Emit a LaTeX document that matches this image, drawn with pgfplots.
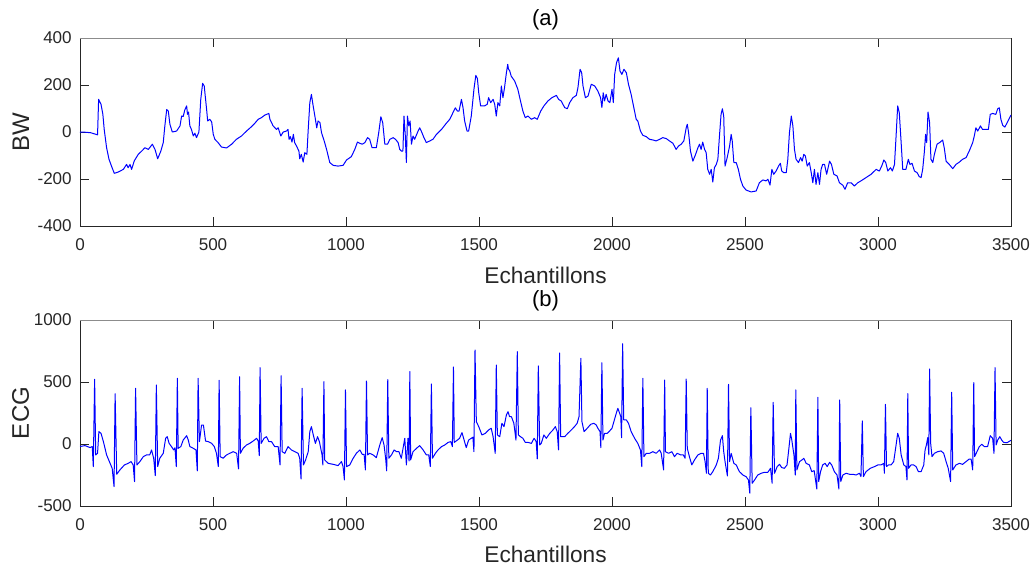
\documentclass[border=0pt]{standalone}
\usepackage{fontspec}
\setmainfont{Liberation Sans}
\usepackage{pgfplots}
\pgfplotsset{compat=1.18}
\definecolor{axgray}{HTML}{262626}
\definecolor{topgray}{HTML}{8C8C8C}
\pgfplotsset{
  mystyle/.style={
    scale only axis, width=698.25pt,
    xmin=0, xmax=3500,
    xtick={0,500,1000,1500,2000,2500,3000,3500},
    xticklabels={0,500,1000,1500,2000,2500,3000,3500},
    tick align=inside,
    major tick length=7pt,
    axis line style={axgray, line width=0.7pt},
    tick style={axgray, line width=0.7pt},
    tick label style={font=\fontsize{12.8}{15}\selectfont, text=axgray},
    xticklabel style={inner sep=0pt, yshift=-9pt},
    yticklabel style={inner sep=0pt, xshift=-6pt},
  },
  sig/.style={color=blue, line width=0.75pt, line join=round}
}
\begin{document}
\begin{tikzpicture}
\useasboundingbox (0,0) rectangle (774.75pt,429pt);
\begin{axis}[mystyle, name=ax1, at={(60pt,259.5pt)}, anchor=south west,
  height=141pt, ymin=-400, ymax=400,
  ytick={-400,-200,0,200,400}, yticklabels={-400,-200,0,200,400}]
\addplot[sig] table[x=x,y=y] {
x y
0 0
20 -1
40 -3
66 -12
70 139
79 118
86 75
91 11
100 -67
109 -116
119 -147
129 -176
144 -170
163 -159
175 -138
181 -152
188 -138
194 -159
204 -123
219 -95
232 -81
244 -67
257 -74
272 -52
282 -74
292 -114
304 -81
313 -45
319 26
326 96
332 89
338 33
347 0
363 4
376 26
382 68
388 66
394 94
401 111
404 75
408 85
413 26
419 11
426 -17
432 -5
438 -24
447 0
454 139
461 207
467 196
476 96
480 47
488 54
495 43
501 -10
507 -31
519 -45
532 -64
551 -68
570 -52
588 -31
607 -17
626 4
645 23
657 37
670 54
682 61
695 72
710 79
714 54
726 26
739 11
745 18
755 -17
764 0
776 4
782 11
786 -31
791 -20
797 -43
802 -10
807 -45
814 -60
823 -81
826 -114
832 -95
839 -128
845 -88
853 -95
858 11
864 125
870 160
876 115
885 54
890 18
895 47
902 40
908 -3
918 -38
927 -74
939 -130
952 -142
970 -145
989 -142
1002 -119
1020 -105
1033 -74
1043 -43
1052 -48
1061 -52
1071 -45
1081 -24
1089 -31
1098 -67
1114 -67
1123 -3
1131 65
1138 40
1146 -52
1156 -52
1165 -31
1177 -24
1186 -31
1196 -45
1202 -74
1208 -81
1214 -81
1218 68
1223 -17
1227 -130
1231 68
1236 26
1241 47
1246 -52
1252 -17
1258 -31
1271 4
1277 18
1283 4
1293 -24
1302 -45
1315 -38
1327 -31
1340 -10
1359 11
1377 37
1390 54
1402 82
1411 103
1419 89
1425 89
1434 139
1440 103
1446 47
1455 4
1461 4
1471 68
1481 182
1488 241
1494 227
1499 167
1506 111
1521 111
1531 118
1536 146
1544 125
1553 139
1559 118
1565 68
1571 125
1578 111
1584 196
1590 146
1596 189
1603 252
1608 288
1611 267
1615 262
1621 238
1634 217
1646 182
1656 132
1665 89
1674 61
1684 68
1697 54
1709 61
1719 54
1732 89
1744 111
1759 132
1774 146
1791 156
1799 139
1809 132
1822 104
1832 99
1841 125
1853 146
1866 156
1872 189
1880 267
1886 252
1891 196
1900 146
1910 153
1922 203
1935 196
1947 174
1957 146
1962 104
1967 167
1972 132
1978 160
1985 132
1992 125
2000 181
2005 125
2010 245
2017 295
2024 316
2030 260
2037 245
2045 267
2054 252
2062 203
2072 160
2082 104
2091 54
2097 47
2107 4
2116 -14
2129 -20
2141 -31
2154 -34
2166 -38
2179 -31
2191 -24
2204 -28
2216 -38
2229 -48
2241 -74
2250 -60
2260 -52
2270 -38
2279 18
2283 33
2288 -3
2295 -81
2304 -124
2313 -99
2323 -67
2329 -52
2335 -74
2341 -43
2348 -74
2354 -88
2360 -159
2367 -180
2373 -159
2379 -213
2385 -152
2392 -138
2398 -116
2404 -17
2410 75
2415 99
2420 68
2425 -145
2433 -109
2442 -60
2448 -10
2452 -38
2458 -130
2467 -130
2475 -159
2483 -201
2492 -230
2504 -247
2523 -255
2542 -251
2554 -216
2567 -204
2579 -208
2586 -201
2594 -226
2601 -159
2608 -180
2617 -166
2626 -145
2633 -133
2638 -166
2646 -173
2655 -173
2661 -116
2667 -3
2674 68
2680 26
2686 -74
2692 -116
2701 -130
2709 -109
2715 -124
2721 -95
2727 -102
2734 -145
2742 -130
2749 -173
2755 -216
2761 -159
2767 -223
2774 -173
2780 -223
2786 -159
2792 -138
2799 -138
2807 -180
2818 -124
2825 -138
2834 -180
2846 -187
2855 -216
2868 -227
2876 -244
2886 -216
2899 -216
2911 -230
2924 -216
2936 -208
2955 -194
2974 -180
2993 -159
3005 -166
3014 -145
3022 -119
3029 -130
3037 -166
3047 -152
3054 -166
3062 -138
3068 -17
3074 111
3080 82
3087 -45
3093 -159
3105 -159
3114 -116
3120 -138
3128 -133
3137 -166
3147 -173
3155 -190
3162 -194
3168 -159
3174 -88
3179 -10
3183 -45
3188 85
3194 40
3199 -116
3206 -130
3212 -95
3222 -52
3234 -43
3243 -34
3249 -67
3256 -124
3268 -138
3281 -156
3293 -138
3306 -128
3318 -116
3331 -109
3343 -81
3356 -45
3362 -17
3368 18
3375 4
3385 26
3393 11
3406 11
3415 11
3422 75
3431 79
3443 75
3450 99
3456 103
3462 54
3469 28
3477 21
3490 50
3500 72
};
\end{axis}
\begin{axis}[mystyle, name=ax2, at={(60pt,49.5pt)}, anchor=south west,
  height=139.5pt, ymin=-500, ymax=1000,
  ytick={-500,0,500,1000}, yticklabels={-500,0,500,1000}]
\addplot[sig] table[x=x,y=y] {
x y
0 -20
19 -13
38 -29
46 -20
50 -182
55 522
59 -88
66 -75
71 100
79 86
88 19
100 -88
113 -155
121 -196
128 -344
132 406
138 -244
150 -209
167 -169
182 -155
192 -142
200 -169
205 -303
209 449
214 -169
225 -142
238 -102
250 -88
262 -88
269 -48
277 -115
283 -255
287 476
292 -182
300 -115
313 -75
322 46
328 59
335 5
344 -21
352 -48
357 -30
362 -182
366 530
369 -35
379 -21
388 32
401 67
407 32
413 -21
426 -35
436 -48
441 -217
444 530
449 19
457 153
464 153
472 24
482 19
495 5
505 -21
513 -75
520 -182
523 514
527 -102
538 -115
551 -88
563 -75
576 -62
589 -75
596 -201
600 543
603 -75
613 -35
626 -8
638 5
651 24
664 46
670 24
674 -94
677 616
681 5
692 46
701 59
710 19
720 19
732 -21
745 -21
752 -169
756 551
760 -62
770 -75
782 -21
795 -48
808 -62
820 -75
826 -115
831 -282
835 449
840 -169
848 -129
858 -62
864 100
870 140
877 73
885 5
893 59
900 19
910 -88
913 -169
917 503
920 -129
933 -156
952 -164
970 -174
983 -142
989 -182
994 -290
998 436
1002 -182
1014 -169
1027 -115
1039 -75
1052 -48
1061 -83
1068 -83
1073 -209
1077 508
1081 -88
1089 -75
1102 -88
1114 -110
1127 -8
1136 51
1143 -8
1149 -115
1153 -217
1157 519
1161 -115
1171 -88
1181 -48
1190 -62
1199 -62
1208 -115
1221 46
1227 -169
1233 46
1237 -137
1240 584
1243 -129
1252 -62
1265 -35
1277 -13
1290 -48
1302 -88
1311 -88
1317 -182
1321 484
1325 -115
1336 -75
1346 -48
1359 -21
1371 -8
1384 13
1394 19
1400 -21
1404 621
1407 13
1419 32
1427 46
1436 92
1444 32
1452 -29
1461 32
1471 46
1477 55
1481 -62
1485 758
1490 180
1499 140
1511 73
1524 86
1536 113
1546 127
1553 59
1561 -75
1565 637
1569 73
1578 59
1586 167
1594 140
1603 234
1609 261
1615 220
1622 220
1631 167
1639 32
1644 745
1648 73
1656 59
1665 46
1674 13
1684 13
1697 5
1707 46
1715 20
1719 -120
1723 630
1728 -8
1734 5
1744 73
1753 46
1766 86
1778 113
1787 140
1794 100
1799 -48
1803 734
1807 59
1822 59
1834 86
1847 113
1859 140
1869 167
1876 220
1883 691
1887 180
1895 100
1907 127
1920 159
1932 167
1941 153
1947 127
1955 100
1958 -29
1962 656
1966 32
1972 86
1982 86
1991 105
2000 127
2007 180
2016 247
2022 288
2029 247
2033 220
2036 51
2040 809
2044 194
2054 194
2062 167
2072 100
2085 46
2097 5
2107 -48
2112 -182
2116 530
2120 -102
2129 -75
2141 -75
2154 -62
2166 -75
2179 -48
2185 -75
2194 -209
2198 516
2201 -62
2213 -75
2225 -62
2235 -102
2245 -75
2258 -88
2268 -88
2275 -115
2279 524
2283 -35
2291 -102
2300 -169
2310 -129
2323 -88
2335 -75
2344 -75
2350 -142
2355 -236
2358 449
2362 -236
2370 -250
2379 -223
2392 -169
2400 -115
2408 32
2415 67
2420 -62
2425 -142
2434 -258
2438 481
2442 -142
2448 -75
2458 -156
2467 -169
2479 -223
2492 -250
2504 -263
2513 -290
2518 -397
2522 293
2527 -317
2536 -290
2548 -250
2561 -236
2573 -228
2586 -228
2596 -196
2602 -317
2606 336
2611 -236
2621 -182
2630 -164
2638 -190
2648 -196
2658 -169
2665 -35
2671 86
2676 32
2684 -88
2689 -250
2691 436
2695 -209
2705 -142
2714 -129
2721 -115
2730 -156
2742 -169
2751 -223
2760 -215
2770 -363
2774 377
2777 -303
2784 -223
2792 -169
2801 -156
2809 -182
2818 -148
2826 -169
2836 -223
2846 -250
2853 -363
2856 355
2860 -303
2868 -250
2880 -236
2893 -244
2905 -244
2918 -250
2930 -236
2936 -263
2941 186
2945 -263
2955 -223
2971 -196
2987 -182
2999 -169
3011 -169
3022 -156
3024 -236
3028 320
3032 -182
3039 -169
3049 -169
3059 -142
3068 -8
3074 86
3080 46
3087 -88
3097 -169
3105 -182
3109 -290
3112 406
3115 -196
3124 -169
3134 -169
3143 -182
3152 -223
3162 -223
3172 -169
3177 -48
3182 -8
3187 51
3191 -88
3194 605
3198 5
3203 -102
3212 -75
3224 -62
3237 -56
3247 -75
3256 -142
3264 -196
3273 -303
3277 417
3281 -209
3293 -169
3306 -156
3318 -164
3331 -142
3343 -121
3350 -121
3356 -209
3360 495
3363 -102
3372 -62
3381 -21
3390 -2
3400 -21
3412 -21
3422 67
3431 46
3436 -75
3440 616
3444 -8
3450 32
3458 59
3465 32
3472 13
3485 10
3500 30
};
\end{axis}
% lighter top edges, as in the reference
\draw[topgray, line width=0.7pt] (ax1.north west) -- (ax1.north east);
\draw[topgray, line width=0.7pt] (ax2.north west) -- (ax2.north east);
% titles and labels
\node[anchor=south, inner sep=0pt, font=\fontsize{16.5}{19}\selectfont, text=black] at ([yshift=5.5pt]ax1.north) {(a)};
\node[anchor=south, inner sep=0pt, font=\fontsize{16.5}{19}\selectfont, text=black] at ([yshift=6.5pt]ax2.north) {(b)};
\node[anchor=north, inner sep=0pt, font=\fontsize{17}{20}\selectfont, text=axgray] at ([yshift=-30.5pt]ax1.south) {Echantillons};
\node[anchor=north, inner sep=0pt, font=\fontsize{17}{20}\selectfont, text=axgray] at ([yshift=-30pt]ax2.south) {Echantillons};
\node[rotate=90, anchor=south, inner sep=0pt, font=\fontsize{18}{21}\selectfont, text=axgray] at ([xshift=-38pt]ax1.west) {BW};
\node[rotate=90, anchor=south, inner sep=0pt, font=\fontsize{18}{21}\selectfont, text=axgray] at ([xshift=-38pt]ax2.west) {ECG};
\end{tikzpicture}
\end{document}
